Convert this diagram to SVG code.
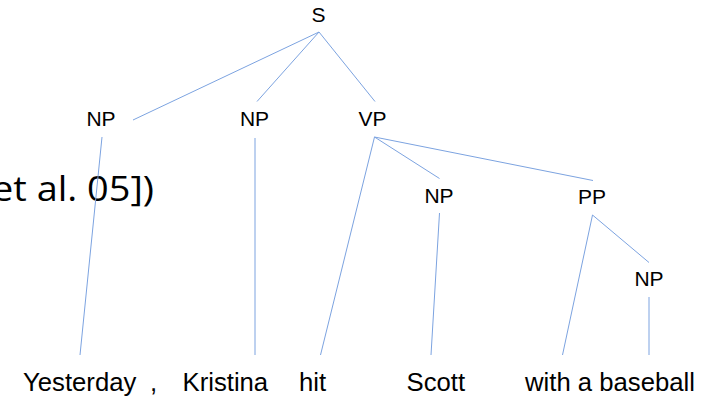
<svg xmlns="http://www.w3.org/2000/svg" width="709" height="397" viewBox="0 0 709 397">
  <style>
    .cat { font-family: "Liberation Sans", Arial, sans-serif; font-size: 21px; fill: #000; text-anchor: middle; }
    .word { font-family: "Liberation Sans", Arial, sans-serif; font-size: 25.7px; fill: #000; }
    .edge { stroke: #7ca3e0; stroke-width: 1; fill: none; }
    .cite { font-family: "Open Sans", "Liberation Sans", sans-serif; font-size: 34px; fill: #000; }
  </style>
  <rect width="709" height="397" fill="#fff"/>

  <!-- partial citation text behind the tree -->
  <text class="cite" x="-8" y="200.7" textLength="162" lengthAdjust="spacingAndGlyphs">et al. 05])</text>

  <!-- tree edges -->
  <g id="connectors">
    <line class="edge" x1="319" y1="32" x2="133" y2="120"/>
    <line class="edge" x1="319" y1="32" x2="257" y2="101.5"/>
    <line class="edge" x1="319" y1="32" x2="375" y2="101.5"/>
    <line class="edge" x1="102" y1="137" x2="80" y2="355"/>
    <line class="edge" x1="255" y1="138" x2="255" y2="355"/>
    <line class="edge" x1="374.5" y1="137" x2="320.5" y2="355"/>
    <line class="edge" x1="374.5" y1="137" x2="439.5" y2="178.5"/>
    <line class="edge" x1="374.5" y1="137" x2="593" y2="180.5"/>
    <line class="edge" x1="439.5" y1="213" x2="431" y2="355"/>
    <line class="edge" x1="592.5" y1="215" x2="562.5" y2="355"/>
    <line class="edge" x1="592.5" y1="215" x2="649" y2="262.5"/>
    <line class="edge" x1="649" y1="297" x2="649" y2="355"/>
  </g>

  <!-- phrase nodes -->
  <g id="S"><text class="cat" x="318.5" y="22">S</text></g>
  <g id="NP-1"><text class="cat" x="101" y="126">NP</text></g>
  <g id="NP-2"><text class="cat" x="254.5" y="126">NP</text></g>
  <g id="VP"><text class="cat" x="372.5" y="126">VP</text></g>
  <g id="NP-3"><text class="cat" x="439" y="202.5">NP</text></g>
  <g id="PP"><text class="cat" x="592" y="203.5">PP</text></g>
  <g id="NP-4"><text class="cat" x="649" y="286">NP</text></g>

  <!-- words -->
  <g id="w-yesterday"><text class="word" x="23" y="391">Yesterday</text></g>
  <g id="w-comma"><text class="word" x="150" y="391">,</text></g>
  <g id="w-kristina"><text class="word" x="182.5" y="391">Kristina</text></g>
  <g id="w-hit"><text class="word" x="299" y="391">hit</text></g>
  <g id="w-scott"><text class="word" x="406.5" y="391">Scott</text></g>
  <g id="w-baseball"><text class="word" x="525" y="391">with a baseball</text></g>
</svg>
